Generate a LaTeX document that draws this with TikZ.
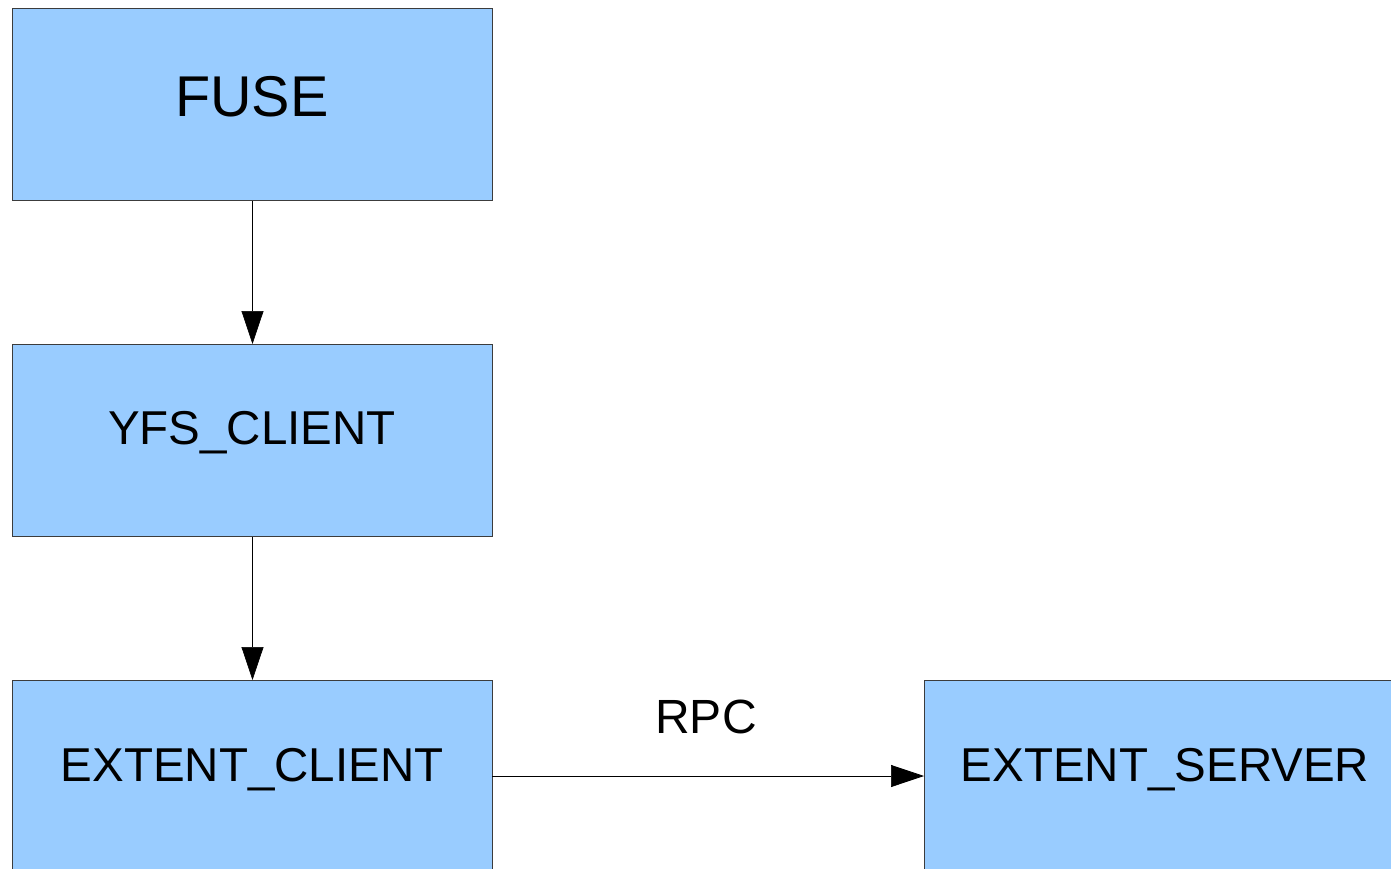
\documentclass[tikz,border=0pt]{standalone}
\usepackage{fontspec}
\setmainfont{Liberation Sans}
\usetikzlibrary{arrows.meta}
\definecolor{boxblue}{HTML}{99CCFF}
\definecolor{boxline}{HTML}{3C3C3C}
\tikzset{
  box/.style={draw=boxline, line width=1pt, fill=boxblue, rectangle, minimum width=480pt, minimum height=192pt, inner sep=0pt, anchor=north west},
  lbl/.style={anchor=base, inner sep=0pt, text=black},
  conn/.style={draw=black, line width=0.7pt, -{Triangle[length=33pt,width=22pt]}}
}
\begin{document}
\begin{tikzpicture}[x=1pt,y=-1pt]
\useasboundingbox (0,0) rectangle (1391,869);
\begin{scope}
\clip (0,0) rectangle (1391,869);
\node[box] (fuse) at (12,8) {};
\node[box] (yfs) at (12,344) {};
\node[box] (ec) at (12,680) {};
\node[box] (es) at (924,680) {};
\node[lbl, font=\fontsize{57.5}{60}\selectfont] (tfuse) at (252,117) {FUSE};
\node[lbl, font=\fontsize{47.5}{50}\selectfont] (tyfs) at (252,444) {YFS\_CLIENT};
\node[lbl, font=\fontsize{47.5}{50}\selectfont] (tec) at (252,781) {EXTENT\_CLIENT};
\node[lbl, font=\fontsize{47.5}{50}\selectfont] (tes) at (1165,781) {EXTENT\_SERVER};
\draw[conn] (fuse.south) -- (yfs.north);
\draw[conn] (yfs.south) -- (ec.north);
\coordinate (ecr) at (492,776);
\coordinate (esl) at (924,776);
\draw[conn] (ecr) -- (esl) node[midway, lbl, font=\fontsize{48}{50}\selectfont, yshift=43pt, xshift=-2pt] (rpc) {RPC};
\end{scope}
\end{tikzpicture}
\end{document}
